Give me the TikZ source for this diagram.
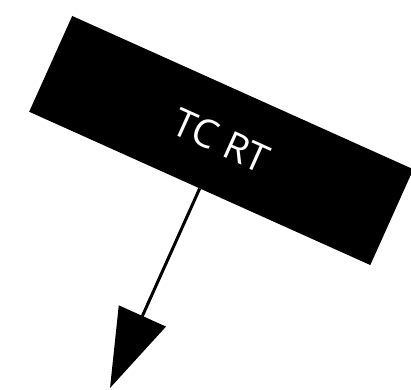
\documentclass[tikz,border=0pt]{standalone}
\usepackage{fontspec}
\setmainfont{Open Sans}
\usetikzlibrary{arrows.meta}
\tikzset{
  box/.style={fill=black, draw=none, minimum width=374pt, minimum height=105pt, inner sep=0pt, rotate=-24.2, text=white, font=\fontsize{39pt}{39pt}\selectfont},
  link/.style={line width=3pt, -{Triangle[length=79pt,width=51pt]}}
}
\begin{document}
\begin{tikzpicture}[x=1pt,y=1pt]
\useasboundingbox (0,0) rectangle (411,-389);
\node[box] (n) at (221.25,-140.5) {TC RT};
\coordinate (tip) at (110,-388);
\draw[link] (n.south) -- (tip);
\end{tikzpicture}
\end{document}
